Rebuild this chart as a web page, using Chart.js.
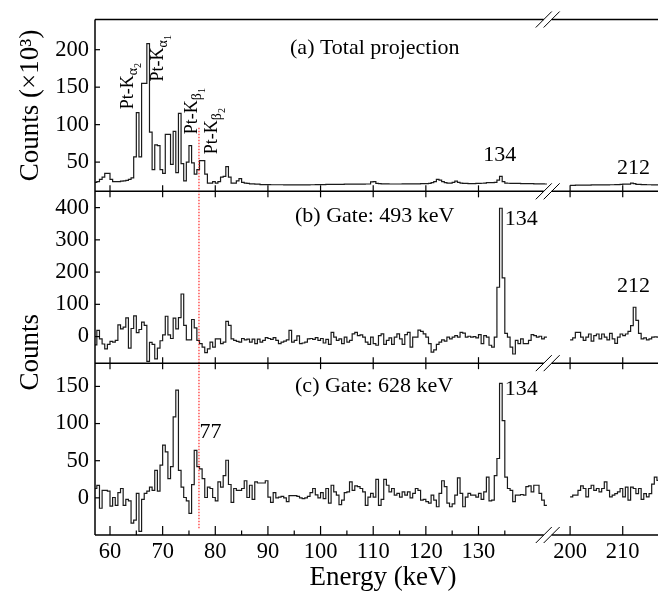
<!DOCTYPE html>
<html>
<head>
<meta charset="utf-8">
<script src="https://cdn.jsdelivr.net/npm/chart.js@4.4.0/dist/chart.umd.min.js"></script>
<style>
  html, body { margin: 0; padding: 0; background: #fff; }
  #wrap { width: 658px; height: 593px; }
</style>
</head>
<body>
<div id="wrap"><canvas id="spec" width="658" height="593"></canvas></div>
<script>
// Gamma spectra: total projection + two gated spectra, 0.5 keV bins,
// x axis broken between ~143 and ~200 keV.
const BIN = 0.5;
const LEFT_START = 57.0;
const RIGHT_START = 200.0;
const GAP_SHIFT = 52.6;          // 200 keV drawn at 147.4 on the continuous axis
const X_MIN = 57.15, X_MAX = 216.7;

const X_TICKS = [60, 70, 80, 90, 100, 110, 120, 130, 200, 210];
const X_MINOR = [65, 75, 85, 95, 105, 115, 125, 135];
const Y_TICKS_A = [50, 100, 150, 200];
const Y_TICKS_B = [0, 100, 200, 300, 400];
const Y_TICKS_C = [0, 50, 100, 150];

// (a) total projection, counts x10^3
const totalLeft = [
  23, 24, 27, 30, 35, 35, 27, 24, 24, 24,
  24.5, 25, 25.5, 27, 29, 57, 116, 57, 155, 155,
  208, 90, 40, 73, 72, 40, 35, 87, 87, 47,
  91, 36, 115, 48, 25, 50, 72, 49, 34, 40,
  52, 52, 34, 22, 22, 24, 22, 24, 30, 31,
  44, 30, 22, 22, 25, 28, 23, 22, 21.5, 21,
  21, 20.5, 20.5, 20, 20, 20, 20, 19.8, 19.8, 19.8,
  19.8, 19.8, 19.6, 19.6, 19.6, 19.6, 19.5, 19.5, 19.6, 19.6,
  19.7, 19.7, 19.8, 19.8, 20, 20, 20, 20, 20.2, 20.2,
  20.2, 20.3, 20.3, 20.4, 20.4, 20.5, 20.5, 20.6, 20.6, 20.6,
  20.6, 20.7, 20.7, 20.8, 20.8, 23.5, 24, 21.5, 21.2, 21,
  21, 21, 20.8, 20.8, 20.8, 20.8, 20.8, 20.9, 20.9, 20.9,
  21, 21, 21, 21, 21.2, 21.2, 21.4, 21.6, 22.5, 24,
  27, 26, 24, 22.5, 22, 22, 23, 24.5, 23, 22,
  21.5, 21.5, 21.3, 21.3, 21.3, 21.5, 21.5, 21.8, 22, 22.5,
  22.5, 22.5, 23, 26, 31, 24, 22, 21.8, 21.5, 21.5,
  21.5, 21.5, 21.3, 21.3, 21.2, 21.2, 21.2, 21, 21, 21, 21, 20.8
];
const totalRight = [
  19, 19, 19.2, 19.2, 19.3, 19.3, 19.4, 19.4, 19.5, 19.5,
  19.5, 19.6, 19.6, 19.7, 19.7, 19.8, 19.8, 19.9, 20, 20.2,
  20.5, 20.6, 20.5, 22, 21.2, 20.4, 20.2, 20, 20, 19.8,
  19.8, 19.7, 19.7, 19.6
];

// (b) gate 493 keV
const gate493Left = [
  -26, 19, -7, -23, -38, -24, -15, -17, -12, 36,
  24, 29, 58, -36, 25, 64, 12, 22, 45, 35,
  -77, -18, -24, -69, -36, -13, 5, 63, 5, -6,
  57, 24, 59, 132, 35, -10, -10, 53, 27, -12,
  -22, -33, -50, -38, -17, -33, -7, -7, -22, -17,
  47, 35, -7, -12, -15, -17, -6, -10, -8, -17,
  -8, -22, -8, -17, -12, -3, -6, -9, -3, -12,
  -22, -17, -14, -10, 19, -17, -12, 2, -22, -20,
  -17, -7, -6, -9, -3, -12, -6, -20, -9, -24,
  13, -2, -12, -7, -22, -2, -17, -12, 8.5, 13,
  3, 5, -2, -17, -24, -2, -22, -27, 3, 8.5,
  -24, -12, -4, -24, -2, 8.5, -7, -24, 6, 13,
  -33, -2, -2, 20, 16, 8.5, -2, -22, -48, -41,
  -24, -17, -10, -14, -2, -7, -2, 3, -2, 13,
  10.5, -2, 1, -2, 0, -4, 6, -22, 3, -2,
  -27, -33, -2, 153, 398, 182, 10, -2, -33, -54,
  -12, -22, -7, -22, -22, -12, 6, 3, -2, 1, -7, -2
];
const gate493Right = [
  -10, -4, 13, 13, -2, -12, -2, 8, -14, 3,
  8, -7, 8, -2, -10, 10, -7, -21, -2, 8,
  3, 8, 16, 34, 91, 50, 10, -7, -4, -10,
  -7, -2, -1, -2
];

// (c) gate 628 keV
const gate628Left = [
  12.6, 16.7, -14, 10, 10, 9, -11, 0.5, -10, 7,
  12.6, -10, -2, -4, -34, -30, 6, -45, -2, 6,
  9, 14.5, 10, 37, 9, 44, 71, 62, 26, 42,
  109, 145, 37, 14.5, 0.5, -4, -21, 17.7, 64, 42,
  39, 26, 0.5, 14.5, 12.6, 0.5, -4, 21.5, 14.5, 30,
  50.6, 18, -6, 12.6, 10, 10, 12.6, 23, 0.5, 17,
  -2, 21.5, 20, 20, 20, 23, 1, -6, 7, 0,
  1, 2, 0, -5, 3, 3, 3, 2, 0, -1,
  0, 2, 7, 12.6, 4, 0, 7, -1, 12.6, -7,
  17, 8, 3.6, -9, -3, 7, 8, 21.5, 10, 16,
  15, 12.6, 8, -10, 1, 6, 1, 25, -10, -2,
  25, 17, 8, 12.6, 3.6, 6, 1, 8, 3.6, 8,
  0, 6, 12.6, 10, -3, -2, -5, -7, 3.6, -3,
  -12, 6, 23, 15, -7, -12, -8, 3.6, 27, 6,
  -12, 1, 6, 3.6, 3.6, 1, 6, -2, 8, 28,
  -4, -3, 30, 53, 154, 104, 28, 12.6, 10, -5,
  3.6, 3.6, 4.5, 3.6, 15, 16, 8, 17, 17, 6, -3, -10
];
const gate628Right = [
  1.3, 3.6, 3.6, 10, 16, 12.6, 1.3, 12.6, 17, 10,
  12.6, 8, 12.6, 21.5, 10, 1.3, 3.6, 5.8, 8, 12.6,
  1.3, 14.5, -3, 14.5, 12.6, 5.8, 12.6, -2, 5.8, 1.3,
  5.8, 18.4, 28, 23.5
];

const SERIF = '"Liberation Serif", "DejaVu Serif", serif';
const INK = '#1a1a1a';

const toAxis = e => (e > 170 ? e - GAP_SHIFT : e);

// step histogram: one point per lower bin edge + closing right edge
function histPoints(start, values) {
  const pts = values.map((v, i) => ({ x: toAxis(start + i * BIN), y: v }));
  pts.push({ x: toAxis(start + values.length * BIN), y: values[values.length - 1] });
  return pts;
}
function hist(start, values, axis) {
  return {
    data: histPoints(start, values), yAxisID: axis, stepped: true,
    borderColor: INK, borderWidth: 1.2, pointRadius: 0, fill: false,
  };
}

function yScale(min, max, ticks, weight) {
  return {
    type: 'linear', position: 'left', stack: 'panels', stackWeight: 1, weight,
    min, max,
    grid: { display: false, drawTicks: false }, border: { display: false },
    ticks: { font: { family: SERIF, size: 22.5 }, color: '#000', padding: 6, autoSkip: false },
    afterBuildTicks: s => { s.ticks = ticks.map(v => ({ value: v })); },
    afterFit: s => { s.width = 95; },
  };
}

// annotations, in data units of their panel
const NOTES = [
  { axis: 'yA', x: 94.2, y: 194, text: '(a) Total projection' },
  { axis: 'yA', x: 130.9, y: 51, text: '134' },
  { axis: 'yA', x: 156.3, y: 33.6, text: '212' },
  { axis: 'yB', x: 95.15, y: 355, text: '(b) Gate: 493 keV' },
  { axis: 'yB', x: 135.0, y: 346, text: '134' },
  { axis: 'yB', x: 156.3, y: 137, text: '212' },
  { axis: 'yC', x: 95.15, y: 143, text: '(c) Gate: 628 keV' },
  { axis: 'yC', x: 135.0, y: 139, text: '134' },
  { axis: 'yC', x: 77.0, y: 81, text: '77' },
];
const K_LINES = [
  { x: 64.4, y: 120.5, greek: 'α', idx: '2' },
  { x: 70.1, y: 157.7, greek: 'α', idx: '1' },
  { x: 76.5, y: 87.2, greek: 'β', idx: '1' },
  { x: 80.3, y: 60.5, greek: 'β', idx: '2' },
];
const MARKER_77 = { x: 76.9, fromA: 96, toC: -43 };
const BREAK_MARKS = [142.4, 143.9];

function line(ctx, x1, y1, x2, y2) {
  ctx.beginPath(); ctx.moveTo(x1, y1); ctx.lineTo(x2, y2); ctx.stroke();
}

const framePlugin = {
  id: 'frame',
  afterDatasetsDraw(chart) {
    const { ctx, chartArea: area, scales } = chart;
    const xs = scales.x;
    const panels = [scales.yA, scales.yB, scales.yC];
    ctx.save();

    // dotted marker at 77 keV
    ctx.strokeStyle = '#ff2a2a';
    ctx.lineWidth = 1.2;
    ctx.setLineDash([1.5, 1.5]);
    const mx = xs.getPixelForValue(MARKER_77.x);
    line(ctx, mx, scales.yA.getPixelForValue(MARKER_77.fromA), mx, scales.yC.getPixelForValue(MARKER_77.toC));
    ctx.setLineDash([]);

    ctx.strokeStyle = '#000';
    ctx.lineWidth = 1.5;
    line(ctx, area.left, area.top, area.left, area.bottom);

    const b1 = xs.getPixelForValue(BREAK_MARKS[0]);
    const b2 = xs.getPixelForValue(BREAK_MARKS[1]);
    const edges = [panels[0].top, panels[1].top, panels[2].top, panels[2].bottom];
    edges.forEach(y => {
      line(ctx, area.left, y, b1, y);
      line(ctx, b2, y, area.right, y);
      ctx.lineWidth = 1;
      line(ctx, b1 - 8, y + 8, b1 + 8, y - 8);
      line(ctx, b2 - 8, y + 8, b2 + 8, y - 8);
      ctx.lineWidth = 1.5;
    });

    // x ticks: both ways on inner boundaries, inward on the bottom axis
    ctx.lineWidth = 1.2;
    X_TICKS.forEach(v => {
      const px = xs.getPixelForValue(toAxis(v));
      [edges[1], edges[2]].forEach(y => line(ctx, px, y - 6, px, y + 6));
      line(ctx, px, edges[3], px, edges[3] - 9);
    });
    X_MINOR.forEach(v => {
      const px = xs.getPixelForValue(v);
      line(ctx, px, edges[3], px, edges[3] - 4.5);
    });
    // y ticks, inward
    panels.forEach(s => s.ticks.forEach(t => {
      const py = s.getPixelForValue(t.value);
      line(ctx, area.left, py, area.left + 5, py);
    }));
    ctx.restore();
  },
  afterDraw(chart) {
    const { ctx, scales } = chart;
    const xs = scales.x;
    ctx.save();
    ctx.fillStyle = '#000';
    ctx.textAlign = 'left';
    ctx.textBaseline = 'alphabetic';
    ctx.font = `22px ${SERIF}`;
    NOTES.forEach(n => {
      ctx.fillText(n.text, xs.getPixelForValue(n.x), scales[n.axis].getPixelForValue(n.y));
    });

    K_LINES.forEach(k => {
      ctx.save();
      ctx.translate(xs.getPixelForValue(k.x), scales.yA.getPixelForValue(k.y));
      ctx.rotate(-Math.PI / 2);
      ctx.font = `18px ${SERIF}`;
      ctx.fillText('Pt-K', 0, 0);
      let w = ctx.measureText('Pt-K').width;
      ctx.font = `14px ${SERIF}`;
      ctx.fillText(k.greek, w, 4);
      w += ctx.measureText(k.greek).width;
      ctx.font = `10px ${SERIF}`;
      ctx.fillText(k.idx, w, 8);
      ctx.restore();
    });

    // axis titles
    ctx.font = `27px ${SERIF}`;
    ctx.textAlign = 'center';
    const title = (text, x, y) => {
      ctx.save(); ctx.translate(x, y); ctx.rotate(-Math.PI / 2);
      ctx.fillText(text, 0, 0); ctx.restore();
    };
    title('Counts (×10³)', 38, (scales.yA.top + scales.yA.bottom) / 2);
    title('Counts', 38, scales.yB.bottom - 11);
    ctx.fillText('Energy (keV)', 383, 585);
    ctx.restore();
  },
};

new Chart(document.getElementById('spec'), {
  type: 'line',
  data: {
    datasets: [
      hist(LEFT_START, totalLeft, 'yA'),
      hist(RIGHT_START, totalRight, 'yA'),
      hist(LEFT_START, gate493Left, 'yB'),
      hist(RIGHT_START, gate493Right, 'yB'),
      hist(LEFT_START, gate628Left, 'yC'),
      hist(RIGHT_START, gate628Right, 'yC'),
    ],
  },
  options: {
    responsive: false,
    animation: false,
    devicePixelRatio: 1,
    layout: { padding: { top: 18, right: 0, bottom: 0, left: 0 } },
    plugins: { legend: { display: false }, tooltip: { enabled: false } },
    scales: {
      x: {
        type: 'linear', min: X_MIN, max: toAxis(X_MAX),
        grid: { display: false, drawTicks: false }, border: { display: false },
        ticks: {
          font: { family: SERIF, size: 22.5 }, color: '#000', padding: 4,
          autoSkip: false, maxRotation: 0, callback: (v, i) => X_TICKS[i],
        },
        afterBuildTicks: s => { s.ticks = X_TICKS.map(v => ({ value: toAxis(v) })); },
        afterFit: s => { s.height = 58; },
      },
      yA: yScale(11, 240.3, Y_TICKS_A, 3),
      yB: yScale(-82.5, 450.5, Y_TICKS_B, 2),
      yC: yScale(-50, 181.3, Y_TICKS_C, 1),
    },
  },
  plugins: [framePlugin],
});
</script>
</body>
</html>
